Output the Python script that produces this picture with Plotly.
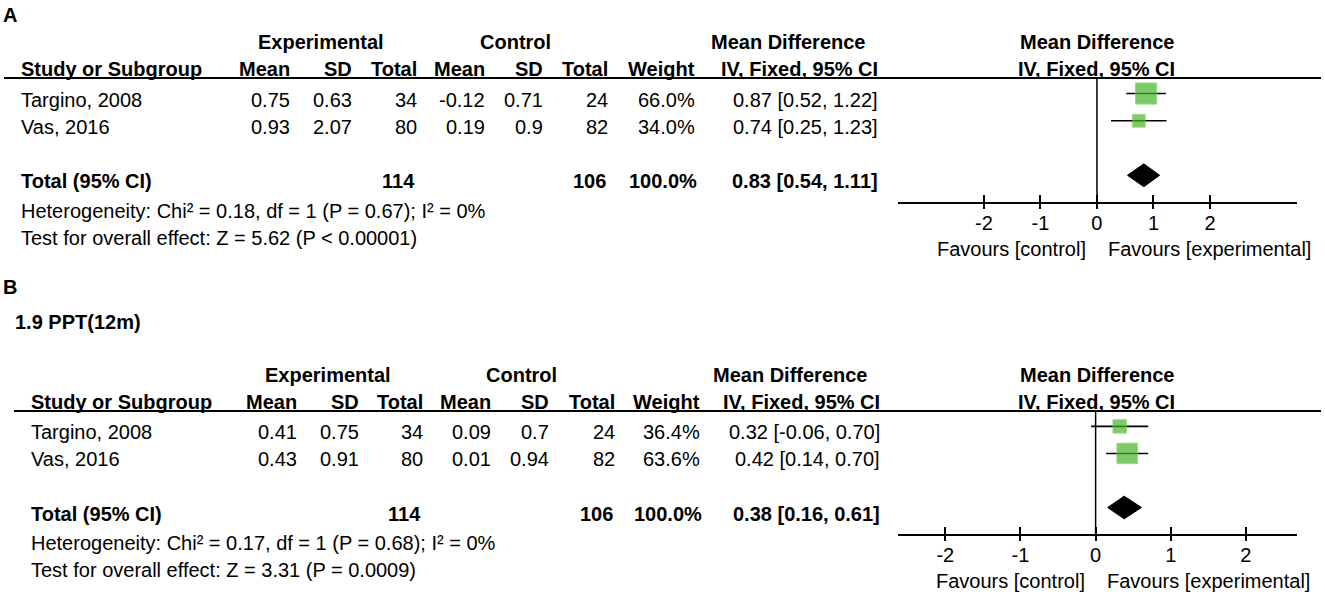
import plotly.graph_objects as go

# ---- data ----
studies = ["Targino, 2008", "Vas, 2016"]
rows = [1, 2]
total_row = 4

# panel A
a_exp_mean = [0.75, 0.93]
a_exp_sd = [0.63, 2.07]
a_exp_n = [34, 80]
a_ctl_mean = [-0.12, 0.19]
a_ctl_sd = [0.71, 0.9]
a_ctl_n = [24, 82]
a_weight = [66.0, 34.0]
a_md = [0.87, 0.74]
a_lo = [0.52, 0.25]
a_hi = [1.22, 1.23]
a_tot = {"n_exp": 114, "n_ctl": 106, "md": 0.83, "lo": 0.54, "hi": 1.11}
a_het = "Heterogeneity: Chi² = 0.18, df = 1 (P = 0.67); I² = 0%"
a_z = "Test for overall effect: Z = 5.62 (P < 0.00001)"

# panel B
b_exp_mean = [0.41, 0.43]
b_exp_sd = [0.75, 0.91]
b_exp_n = [34, 80]
b_ctl_mean = [0.09, 0.01]
b_ctl_sd = [0.7, 0.94]
b_ctl_n = [24, 82]
b_weight = [36.4, 63.6]
b_md = [0.32, 0.42]
b_lo = [-0.06, 0.14]
b_hi = [0.70, 0.70]
b_tot = {"n_exp": 114, "n_ctl": 106, "md": 0.38, "lo": 0.16, "hi": 0.61}
b_het = "Heterogeneity: Chi² = 0.17, df = 1 (P = 0.68); I² = 0%"
b_z = "Test for overall effect: Z = 3.31 (P = 0.0009)"

tick_vals = [-2, -1, 0, 1, 2]
tick_text = ["-2", "-1", "0", "1", "2"]

W, H = 1325, 603
FONT = "Liberation Sans, Arial, sans-serif"
GREEN = "rgb(72,180,44)"
GREEN_EDGE = "rgb(108,206,76)"


def px(x):
    return x / W


def py(y):
    return 1 - y / H


fig = go.Figure()
ann = []
shapes = []


def txt(x, y, s, anchor="left", yref="paper", yshift=0, xref="paper", xshift=0, bold=False):
    ann.append(dict(x=x, y=y, xref=xref, yref=yref, text=("<b>%s</b>" % s) if bold else s,
                    showarrow=False, xanchor=anchor, yanchor="middle", yshift=yshift,
                    xshift=xshift, font=dict(family=FONT, size=20, color="black")))


def panel(top, bottom, left, cols, ya, xa, xa_over, rng, d, letter, letter_y, sub=None):
    (exp_mean, exp_sd, exp_n, ctl_mean, ctl_sd, ctl_n, weight, md, lo, hi, tot, het, z) = d
    yname = "y" if ya == "yaxis" else "y" + ya[5:]
    xname = "x" if xa == "xaxis" else "x" + xa[5:]
    xo = "x" + xa_over[5:]

    # CI lines + squares
    fig.add_trace(go.Scatter(
        x=md, y=rows, mode="markers", xaxis=xname, yaxis=yname,
        marker=dict(symbol="square", size=[4 + 0.26 * w for w in weight], color=GREEN,
                    line=dict(color=GREEN_EDGE, width=1)),
        error_x=dict(type="data", symmetric=False,
                     array=[h - m for h, m in zip(hi, md)],
                     arrayminus=[m - l for m, l in zip(md, lo)],
                     color="black", thickness=1.6, width=0),
        showlegend=False, hoverinfo="skip"))
    # diamond
    hh = 0.42
    fig.add_trace(go.Scatter(
        x=[tot["lo"], tot["md"], tot["hi"], tot["md"], tot["lo"]],
        y=[total_row, total_row - hh, total_row, total_row + hh, total_row],
        mode="lines", fill="toself", fillcolor="black", line=dict(color="black", width=1),
        xaxis=xname, yaxis=yname, showlegend=False, hoverinfo="skip"))
    fig.add_trace(go.Scatter(x=[], y=[], xaxis=xo, yaxis=yname, showlegend=False))

    fig.layout[ya] = dict(domain=[py(bottom), py(top)], range=[4.98, 0.43], visible=False,
                          fixedrange=True)
    ax = dict(domain=[px(898), px(1297)], range=rng, tickvals=tick_vals, ticktext=tick_text,
              showgrid=False, zeroline=False, tickcolor="black", tickwidth=2)
    fig.layout[xa] = dict(ax, anchor=yname, showline=True, linecolor="black", linewidth=2,
                          ticks="inside", ticklen=7, ticklabelstandoff=2,
                          tickfont=dict(family=FONT, size=20, color="black"))
    fig.layout[xa_over] = dict(ax, anchor=yname, overlaying=xname, ticks="outside", ticklen=6,
                               showticklabels=False, showline=False)

    # zero line
    shapes.append(dict(type="line", xref=xname, yref=yname + " domain", x0=0, x1=0, y0=0, y1=1,
                       line=dict(color="black", width=1.5)))
    # header rule
    shapes.append(dict(type="line", xref="paper", yref="paper", x0=px(left - 15), x1=px(1321),
                       y0=py(top), y1=py(top), line=dict(color="black", width=2)))

    c = cols
    h1, h2 = top - 36, top - 9
    txt(px(c["exp"]), py(h1), "Experimental", "center", bold=True)
    txt(px(c["ctl"]), py(h1), "Control", "center", bold=True)
    txt(px(c["mdh"]), py(h1), "Mean Difference", "center", bold=True)
    txt(px(1097), py(h1), "Mean Difference", "center", bold=True)
    txt(px(left), py(h2), "Study or Subgroup", "left", bold=True)
    for key, lab in [("em", "Mean"), ("es", "SD"), ("en", "Total"), ("cm", "Mean"),
                     ("cs", "SD"), ("cn", "Total"), ("w", "Weight"), ("ci", "IV, Fixed, 95% CI")]:
        txt(px(c[key]), py(h2), lab, "right", bold=True)
    txt(px(1096), py(h2), "IV, Fixed, 95% CI", "center", bold=True)

    for i, r in enumerate(rows):
        txt(px(left), r, studies[i], "left", yname, -6)
        vals = [("em", f"{exp_mean[i]:g}"), ("es", f"{exp_sd[i]:g}"), ("en", str(exp_n[i])),
                ("cm", f"{ctl_mean[i]:g}"), ("cs", f"{ctl_sd[i]:g}"), ("cn", str(ctl_n[i])),
                ("w", f"{weight[i]:.1f}%"),
                ("ci", f"{md[i]:.2f} [{lo[i]:.2f}, {hi[i]:.2f}]")]
        for key, s in vals:
            txt(px(c[key]), r, s, "right", yname, -6)

    txt(px(left), total_row, "Total (95% CI)", "left", yname, -6, bold=True)
    txt(px(c["en"] - 2), total_row, str(tot["n_exp"]), "right", yname, -6, bold=True)
    txt(px(c["cn"] - 2), total_row, str(tot["n_ctl"]), "right", yname, -6, bold=True)
    txt(px(c["w"] + 2), total_row, "100.0%", "right", yname, -6, bold=True)
    txt(px(c["ci"]), total_row, f"{tot['md']:.2f} [{tot['lo']:.2f}, {tot['hi']:.2f}]", "right",
        yname, -6, bold=True)
    txt(px(left), py(bottom + 9), het, "left")
    txt(px(left), py(bottom + 36), z, "left")

    txt(0, py(bottom + 47), "Favours [control]", "right", xref=xname, xshift=-9)
    txt(0, py(bottom + 47), "Favours [experimental]", "left", xref=xname, xshift=9)

    txt(px(1), py(letter_y), letter, "left", bold=True)
    if sub:
        txt(px(13), py(sub[1]), sub[0], "left", bold=True)


cols_a = dict(exp=321, ctl=515, mdh=788, em=292, es=354, en=419, cm=487, cs=545, cn=610,
              w=697, ci=880)
cols_b = dict(exp=328, ctl=521, mdh=791, em=299, es=361, en=425, cm=493, cs=551, cn=617,
              w=702, ci=882)

panel(78, 202, 19, cols_a, "yaxis", "xaxis", "xaxis2", [-3.52, 3.54],
      (a_exp_mean, a_exp_sd, a_exp_n, a_ctl_mean, a_ctl_sd, a_ctl_n, a_weight, a_md, a_lo, a_hi,
       a_tot, a_het, a_z), "A", 15)
panel(411, 534, 29, cols_b, "yaxis2", "xaxis3", "xaxis4", [-2.63, 2.68],
      (b_exp_mean, b_exp_sd, b_exp_n, b_ctl_mean, b_ctl_sd, b_ctl_n, b_weight, b_md, b_lo, b_hi,
       b_tot, b_het, b_z), "B", 287, ("1.9 PPT(12m)", 322))

fig.update_layout(width=W, height=H, margin=dict(l=0, r=0, t=0, b=0),
                  paper_bgcolor="white", plot_bgcolor="white",
                  annotations=ann, shapes=shapes, showlegend=False,
                  font=dict(family=FONT, size=20, color="black"))

# page body has an 8px default margin; drop it so the figure sits at the window corner
fig.write_html("out.html", config={"displayModeBar": False},
               post_script="document.body.style.margin='0px';")
